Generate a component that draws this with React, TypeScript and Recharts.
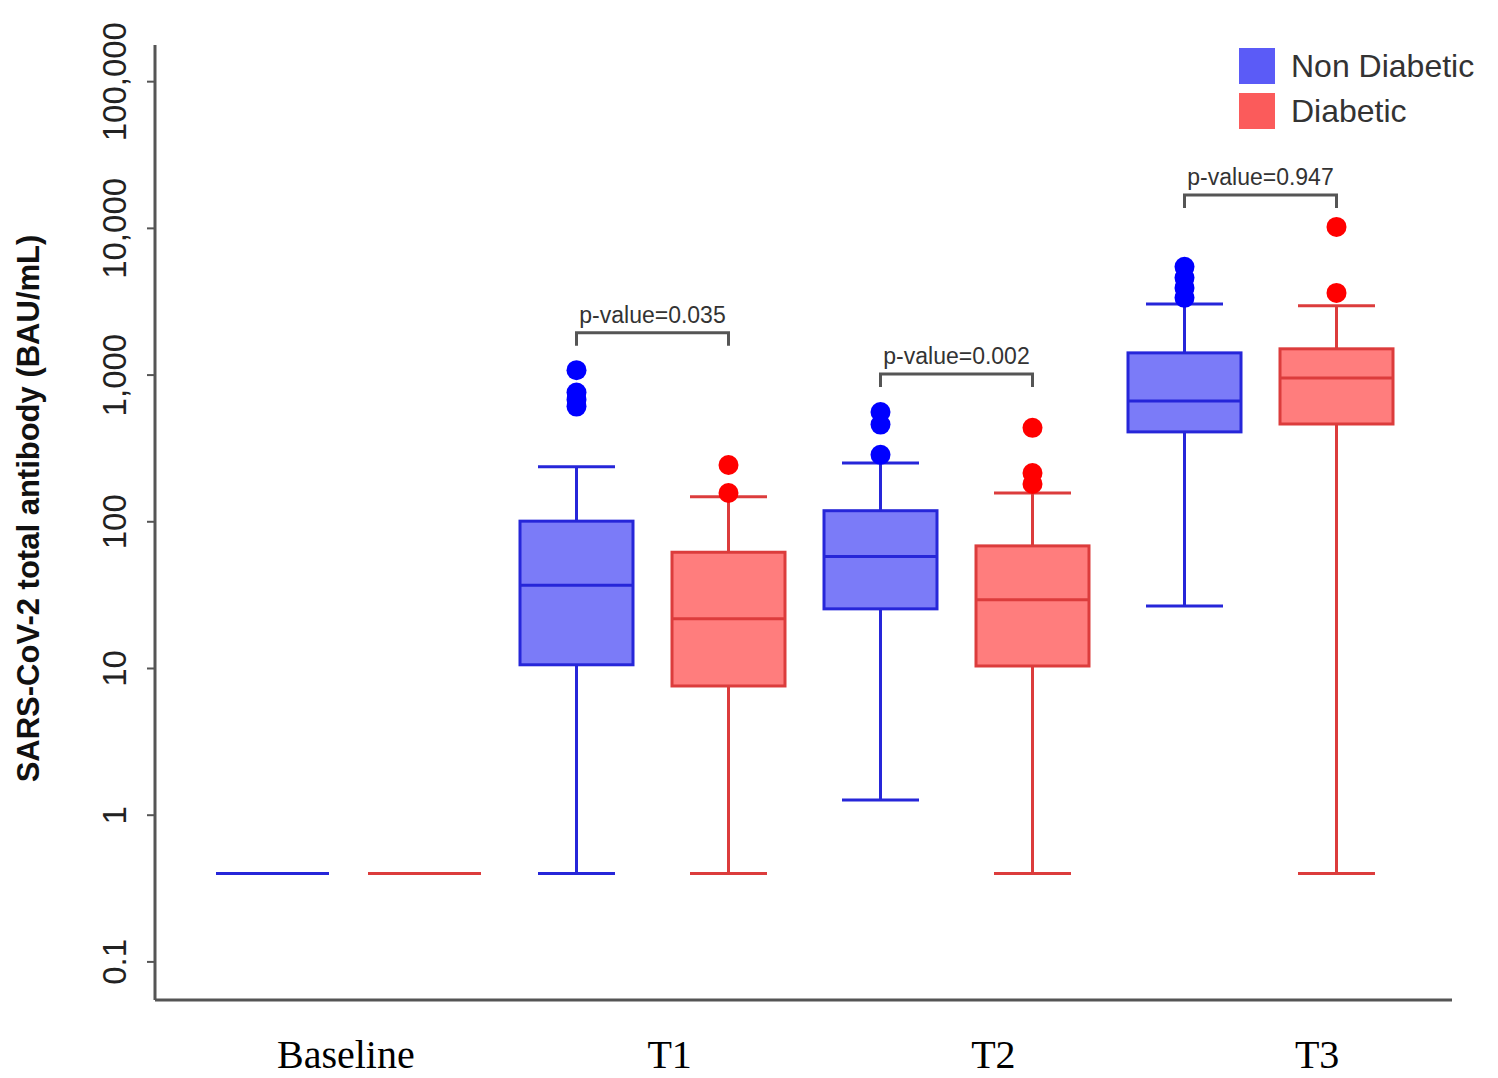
import React from 'react';
import { ComposedChart, Bar, XAxis, YAxis, Legend, Label } from 'recharts';

const groups = ['Baseline', 'T1', 'T2', 'T3'];

// Non Diabetic, SARS-CoV-2 total antibody (BAU/mL)
const nonDiabeticMin = [0.4, 0.4, 1.27, 26.7];
const nonDiabeticQ1 = [0.4, 10.6, 25.5, 410];
const nonDiabeticMedian = [0.4, 37, 58, 667];
const nonDiabeticQ3 = [0.4, 101, 119, 1417];
const nonDiabeticMax = [0.4, 237, 252, 3055];
const nonDiabeticOutliers = [[], [1080, 760, 680, 610], [560, 460, 286], [5470, 4600, 3930, 3360]];

// Diabetic
const diabeticMin = [0.4, 0.4, 0.4, 0.4];
const diabeticQ1 = [0.4, 7.6, 10.4, 464];
const diabeticMedian = [0.4, 21.8, 29.4, 957];
const diabeticQ3 = [0.4, 62, 68.5, 1510];
const diabeticMax = [0.4, 148, 157, 2965];
const diabeticOutliers = [[], [244, 157], [437, 215, 181], [10230, 3630]];

const pValues = ['', 'p-value=0.035', 'p-value=0.002', 'p-value=0.947'];
const bracketLevels = [0, 1940, 1018, 16900];

const yTicks = [0.1, 1, 10, 100, 1000, 10000, 100000];

const BOX_W = 113;
const BAR_GAP = 39;
const CAP_W = 77;
const SANS = '"Liberation Sans", Arial, sans-serif';

const COLORS = {
  nd: { fill: '#7b7bf8', stroke: '#2626d9', dot: '#0000ff', legend: '#5b5bf7' },
  dm: { fill: '#ff7d7d', stroke: '#dc3c3c', dot: '#ff0000', legend: '#fb5b5b' },
};

const data = groups.map((g, i) => ({
  group: g,
  nd: {
    min: nonDiabeticMin[i], q1: nonDiabeticQ1[i], median: nonDiabeticMedian[i],
    q3: nonDiabeticQ3[i], max: nonDiabeticMax[i], outliers: nonDiabeticOutliers[i],
  },
  dm: {
    min: diabeticMin[i], q1: diabeticQ1[i], median: diabeticMedian[i],
    q3: diabeticQ3[i], max: diabeticMax[i], outliers: diabeticOutliers[i],
  },
  pValue: pValues[i],
  bracket: bracketLevels[i],
}));

const makeBoxShape = (key: 'nd' | 'dm') => (props: any) => {
  const { x, y, width, height, payload } = props;
  const s = payload[key];
  const c = COLORS[key];
  const lo = Math.log10(s.min);
  const hi = Math.log10(s.max);
  // bar spans min..max on the log axis, so place the rest along it
  const yOf = (v: number) => (height > 0 ? y + (height * (hi - Math.log10(v))) / (hi - lo) : y);
  const cx = x + width / 2;
  const yMax = yOf(s.max), yMin = yOf(s.min), yQ1 = yOf(s.q1), yQ3 = yOf(s.q3), yMed = yOf(s.median);
  const x2 = cx + width + BAR_GAP;
  return (
    <g>
      <line x1={cx} x2={cx} y1={yMax} y2={yMin} stroke={c.stroke} strokeWidth={3} />
      <line x1={cx - CAP_W / 2} x2={cx + CAP_W / 2} y1={yMax} y2={yMax} stroke={c.stroke} strokeWidth={3} />
      <line x1={cx - CAP_W / 2} x2={cx + CAP_W / 2} y1={yMin} y2={yMin} stroke={c.stroke} strokeWidth={3} />
      {yQ1 - yQ3 > 0 && (
        <rect x={x} y={yQ3} width={width} height={yQ1 - yQ3} fill={c.fill} stroke={c.stroke} strokeWidth={3} />
      )}
      <line x1={x} x2={x + width} y1={yMed} y2={yMed} stroke={c.stroke} strokeWidth={3} />
      {s.outliers.map((o: number, j: number) => (
        <circle key={j} cx={cx} cy={yOf(o)} r={10} fill={c.dot} />
      ))}
      {key === 'nd' && payload.pValue && (
        <g>
          <polyline
            points={`${cx},${yOf(payload.bracket) + 13} ${cx},${yOf(payload.bracket)} ${x2},${yOf(payload.bracket)} ${x2},${yOf(payload.bracket) + 13}`}
            fill="none"
            stroke="#555"
            strokeWidth={3}
          />
          <text x={(cx + x2) / 2} y={yOf(payload.bracket) - 10} textAnchor="middle" fontFamily={SANS} fontSize={23} fill="#333">
            {payload.pValue}
          </text>
        </g>
      )}
    </g>
  );
};

const YTick = (props: any) => {
  const { x, y, payload } = props;
  const tx = x - 30;
  return (
    <text x={tx} y={y} transform={`rotate(-90, ${tx}, ${y})`} textAnchor="middle" dominantBaseline="central"
      fontFamily={SANS} fontSize={33} fill="#222">
      {Number(payload.value).toLocaleString('en-US')}
    </text>
  );
};

const XTick = (props: any) => {
  const { x, y, payload } = props;
  return (
    <text x={x} y={y + 68} textAnchor="middle" fontFamily='"Liberation Serif", "Times New Roman", serif' fontSize={40} fill="#000">
      {payload.value}
    </text>
  );
};

const legendItems = [
  { label: 'Non Diabetic', color: COLORS.nd.legend },
  { label: 'Diabetic', color: COLORS.dm.legend },
];

const LegendContent = () => (
  <div style={{ fontFamily: SANS, fontSize: 32, color: '#333' }}>
    {legendItems.map((it) => (
      <div key={it.label} style={{ display: 'flex', alignItems: 'center', height: 36, marginBottom: 9 }}>
        <div style={{ width: 36, height: 36, background: it.color, marginRight: 16 }} />
        <span>{it.label}</span>
      </div>
    ))}
  </div>
);

export default function App() {
  return (
    <div style={{ position: 'absolute', left: 0, top: 0, background: '#fff' }}>
      <ComposedChart
        width={1498}
        height={1078}
        data={data}
        margin={{ top: 45, right: 46, bottom: 0, left: 0 }}
        barGap={BAR_GAP}
        barSize={BOX_W}
      >
        <XAxis dataKey="group" hide height={0} padding={{ left: 41, right: 40 }} />
        <XAxis
          xAxisId="lab"
          dataKey="group"
          height={78}
          padding={{ left: 29, right: -27 }}
          axisLine={{ stroke: '#555', strokeWidth: 3 }}
          tickLine={false}
          tickSize={0}
          tickMargin={0}
          tick={<XTick />}
          interval={0}
        />
        <YAxis
          width={155}
          scale="log"
          type="number"
          domain={[0.055, 177800]}
          allowDataOverflow
          ticks={yTicks}
          interval={0}
          axisLine={{ stroke: '#555', strokeWidth: 3 }}
          tickLine={{ stroke: '#555', strokeWidth: 2 }}
          tickSize={8}
          tick={<YTick />}
        >
          <Label
            content={(p: any) => {
              const vb = p.viewBox;
              const cx = vb.x + 28;
              const cy = vb.y + vb.height / 2 - 14;
              return (
                <text x={cx} y={cy} transform={`rotate(-90, ${cx}, ${cy})`} textAnchor="middle" dominantBaseline="central"
                  fontFamily={SANS} fontWeight="bold" fontSize={31} fill="#111">
                  SARS-CoV-2 total antibody (BAU/mL)
                </text>
              );
            }}
          />
        </YAxis>
        <Legend
          layout="vertical"
          align="center"
          verticalAlign="middle"
          content={<LegendContent />}
          wrapperStyle={{ left: 1239, top: 48, width: 259 }}
        />
        <Bar dataKey={(d: any) => [d.nd.min, d.nd.max]} name="Non Diabetic" shape={makeBoxShape('nd')} isAnimationActive={false} />
        <Bar dataKey={(d: any) => [d.dm.min, d.dm.max]} name="Diabetic" shape={makeBoxShape('dm')} isAnimationActive={false} />
      </ComposedChart>
    </div>
  );
}
